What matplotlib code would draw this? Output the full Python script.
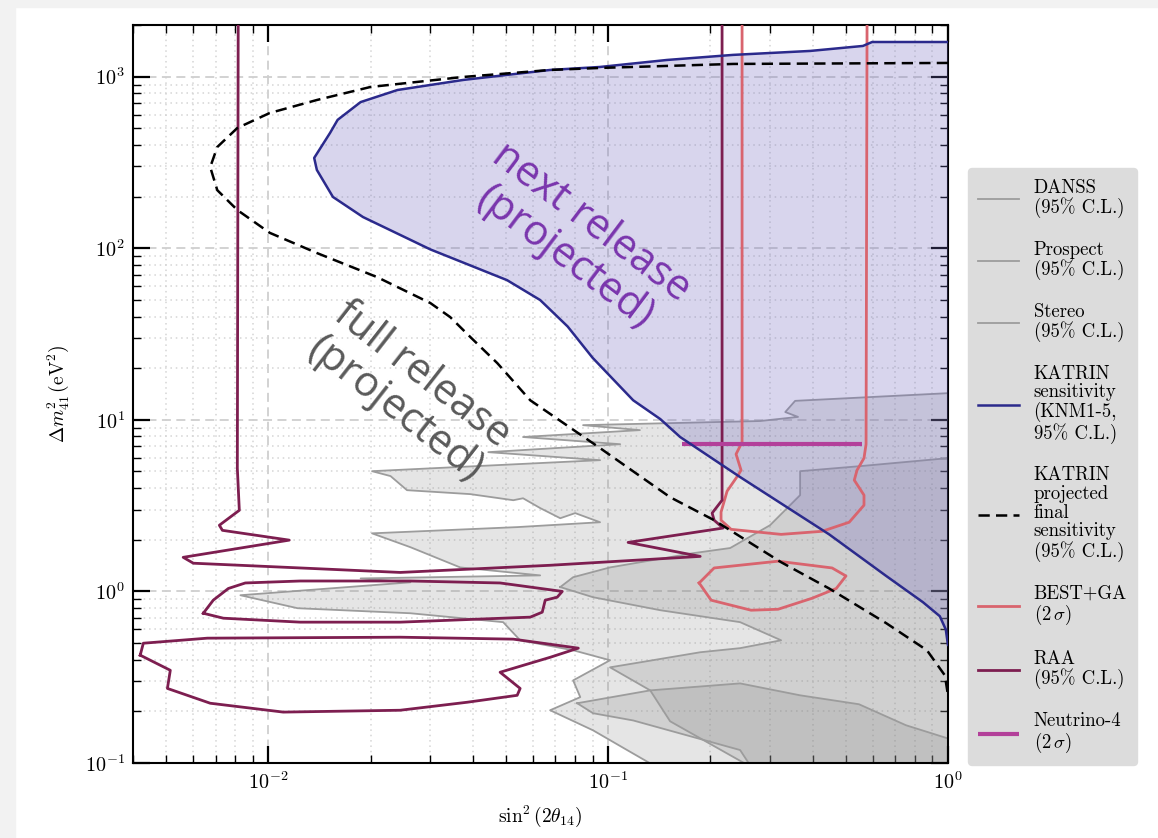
import matplotlib.pyplot as plt
from matplotlib.patches import Rectangle

plt.rcParams['font.family'] = 'serif'
plt.rcParams['font.serif'] = ['cmr10']
plt.rcParams['mathtext.fontset'] = 'cm'
plt.rcParams['axes.formatter.use_mathtext'] = True
plt.rcParams['axes.unicode_minus'] = False

# Reactor exclusion contours (sin^2(2theta), dm^2 in eV^2)
danss_x = [1.2, 1.0, 0.355, 0.332, 0.362, 0.280, 0.0844, 0.124, 0.0562, 0.1085,
           0.0444, 0.0947, 0.0202, 0.0229, 0.0256, 0.0393, 0.0526, 0.0562, 0.0631,
           0.0723, 0.0800, 0.0947, 0.0540, 0.0202, 0.0262, 0.0367, 0.0631, 0.0187,
           0.0262, 0.00828, 0.0122, 0.0262, 0.0491, 0.0551, 0.0789, 0.1013, 0.0789,
           0.0828, 0.0675, 0.0903, 0.1137, 0.133, 0.147, 1.2]
danss_y = [14.3, 14.3, 12.9, 11.1, 10.4, 9.84, 9.31, 8.71, 7.94, 7.21,
           6.48, 5.82, 5.02, 4.70, 3.89, 3.69, 3.40, 3.49, 3.06,
           2.67, 2.86, 2.53, 2.37, 2.18, 1.81, 1.38, 1.24, 1.19,
           1.13, 0.950, 0.798, 0.746, 0.662, 0.519, 0.454, 0.397, 0.303,
           0.242, 0.203, 0.155, 0.119, 0.0995, 0.079, 0.079]

prospect_x = [0.0723, 0.0789, 0.1013, 0.1778, 0.2286, 0.2994, 0.3672, 0.3672, 0.551,
              1.0, 1.2, 1.2, 0.310, 0.1522, 0.133, 0.1013, 0.1242, 0.1866, 0.2445,
              0.3228, 0.2445, 0.1424, 0.0903]
prospect_y = [1.06, 1.21, 1.38, 1.67, 1.79, 2.43, 3.64, 5.02, 5.37,
              5.98, 5.98, 0.079, 0.079, 0.175, 0.265, 0.361, 0.386, 0.442, 0.467,
              0.519, 0.662, 0.777, 0.925]

stereo_x = [0.0811, 0.133, 0.2445, 0.3672, 0.547, 0.752, 1.0, 1.2, 1.2, 0.280,
            0.2445, 0.1185, 0.0903]
stereo_y = [0.223, 0.265, 0.291, 0.248, 0.220, 0.166, 0.139, 0.139, 0.079, 0.079,
            0.119, 0.177, 0.195]

# KATRIN KNM1-5 sensitivity
katrin_x = [1.2, 1.0, 0.598, 0.562, 0.393, 0.233, 0.149, 0.0947, 0.0675, 0.0375,
            0.0240, 0.0187, 0.0160, 0.0152, 0.01365, 0.0139, 0.0155, 0.0190, 0.0300,
            0.0504, 0.0631, 0.0760, 0.0900, 0.1185, 0.1424, 0.1629, 0.2445, 0.447,
            0.658, 0.844, 0.946, 0.985, 1.0, 1.2]
katrin_y = [1592, 1592, 1592, 1510, 1412, 1339, 1251, 1139, 1094, 957,
            836, 711, 560, 470, 336, 286, 199, 152, 98.4,
            65.2, 49.9, 35.0, 23.0, 13.0, 10.1, 7.94, 4.64, 2.15,
            1.23, 0.865, 0.717, 0.600, 0.486, 0.486]

# KATRIN projected final sensitivity
final_x = [1.0, 0.233, 0.0947, 0.0675, 0.0375, 0.0200, 0.0139, 0.0101, 0.00811,
           0.00708, 0.00675, 0.00708, 0.00811, 0.0101, 0.0139, 0.0209, 0.0300,
           0.0343, 0.0393, 0.0472, 0.0590, 0.0947, 0.1522, 0.2051, 0.3228, 0.447,
           0.658, 0.867, 0.979, 1.0]
final_y = [1202, 1186, 1124, 1094, 996, 871, 731, 614, 502,
           389, 297, 218, 167, 123, 93.8, 67.9, 47.9,
           39.7, 30.4, 21.4, 13.0, 6.84, 3.54, 2.60, 1.48, 1.04,
           0.653, 0.454, 0.324, 0.248]

# BEST+GA (2 sigma)
best_x = [0.2478, 0.2478, 0.2379, 0.2461, 0.2411, 0.2239, 0.2149, 0.2149, 0.2301,
          0.3228, 0.426, 0.512, 0.566, 0.566, 0.530, 0.540, 0.566, 0.574, 0.578]
best_y = [2500, 7.41, 6.31, 5.09, 4.75, 3.84, 2.90, 2.60, 2.30,
          2.15, 2.24, 2.53, 3.18, 3.64, 4.45, 5.09, 5.98, 7.21, 2500]
best_island_x = [0.1853, 0.2051, 0.3162, 0.456, 0.501, 0.469, 0.398, 0.3162, 0.2634,
                 0.2009, 0.1853]
best_island_y = [1.12, 1.37, 1.50, 1.37, 1.23, 1.04, 0.912, 0.787, 0.777,
                 0.889, 1.12]

# RAA (95% C.L.)
raa_x = [0.00816, 0.00811, 0.00822, 0.00718, 0.00733, 0.01153, 0.00562, 0.00602,
         0.01242, 0.02445, 0.0675, 0.1866, 0.1145, 0.2179, 0.2051, 0.2023, 0.2164,
         0.2164]
raa_y = [2500, 5.23, 2.97, 2.43, 2.27, 1.99, 1.58, 1.46,
         1.37, 1.29, 1.42, 1.60, 1.93, 2.34, 2.60, 2.86, 3.40,
         2500]
raa_mid_x = [0.00644, 0.00689, 0.00763, 0.00856, 0.01242, 0.02617, 0.0481, 0.0733,
             0.0708, 0.0653, 0.0640, 0.0590, 0.02445, 0.01242, 0.00738, 0.00644]
raa_mid_y = [0.746, 0.889, 1.04, 1.12, 1.15, 1.15, 1.12, 1.00,
             0.925, 0.889, 0.757, 0.708, 0.662, 0.662, 0.698, 0.746]
raa_low_x = [0.00420, 0.00515, 0.00505, 0.00675, 0.01107, 0.02445, 0.0385, 0.0540,
             0.0551, 0.0481, 0.0675, 0.0817, 0.0526, 0.02445, 0.00662, 0.00429,
             0.00420]
raa_low_y = [0.425, 0.347, 0.272, 0.223, 0.198, 0.203, 0.226, 0.248,
             0.272, 0.338, 0.413, 0.467, 0.527, 0.541, 0.534, 0.499,
             0.425]

# Neutrino-4 (2 sigma)
n4_x = [0.165, 0.5585]
n4_y = [7.21, 7.21]

fig = plt.figure(figsize=(11.58, 8.38), dpi=100)
fig.patch.set_facecolor('white')
fig.add_artist(Rectangle((0, 0), 15 / 1158, 1, transform=fig.transFigure,
                         color='#f2f2f2', zorder=-10))
fig.add_artist(Rectangle((0, 1 - 7 / 838), 1, 7 / 838, transform=fig.transFigure,
                         color='#f2f2f2', zorder=-10))

ax = fig.add_axes([133 / 1158, 1 - 763 / 838, 815 / 1158, 738 / 838])
ax.set_xscale('log')
ax.set_yscale('log')

gray_edge = '#9c9c9c'
for gx, gy, name in [(danss_x, danss_y, 'DANSS\n(95% C.L.)'),
                     (prospect_x, prospect_y, 'Prospect\n(95% C.L.)'),
                     (stereo_x, stereo_y, 'Stereo\n(95% C.L.)')]:
    ax.fill(gx, gy, color='#808080', alpha=0.2, lw=0, zorder=1)
    ax.plot(gx + gx[:1], gy + gy[:1], color=gray_edge, lw=1.3, zorder=2, label=name)

ax.fill(katrin_x, katrin_y, color=(0.45, 0.42, 0.75), alpha=0.28, lw=0, zorder=3)
ax.plot(katrin_x, katrin_y, color='#2b2a8c', lw=1.8, zorder=5,
        label='KATRIN\nsensitivity\n(KNM1-5,\n95% C.L.)')
ax.plot(final_x, final_y, color='black', lw=1.8, ls=(0, (4.5, 2.5)), zorder=6,
        label='KATRIN\nprojected\nfinal\nsensitivity\n(95% C.L.)')
ax.plot(best_x, best_y, color='#d9646e', lw=2, zorder=4, label='BEST+GA\n(2$\\,\\sigma$)')
ax.plot(best_island_x, best_island_y, color='#d9646e', lw=2, zorder=4)
ax.plot(raa_x, raa_y, color='#7d1e50', lw=2, zorder=4, label='RAA\n(95% C.L.)')
ax.plot(raa_mid_x, raa_mid_y, color='#7d1e50', lw=2, zorder=4)
ax.plot(raa_low_x, raa_low_y, color='#7d1e50', lw=2, zorder=4)
ax.plot(n4_x, n4_y, color='#b3409a', lw=3.0, zorder=4, solid_capstyle='butt',
        label='Neutrino-4\n(2$\\,\\sigma$)')

ax.set_xlim(0.004, 1)
ax.set_ylim(0.1, 2000)

ax.set_axisbelow(True)
ax.grid(which='major', color='#cfcfcf', ls=(0, (5, 3)), lw=1.3)
ax.grid(which='minor', color='#d5d5d5', ls=(0, (1, 2.5)), lw=1.1)
ax.tick_params(which='both', direction='in', top=True, right=True, labelsize=14.5)
ax.tick_params(which='major', length=12, width=1.6, pad=6)
ax.tick_params(which='minor', length=6, width=1.0)
for sp in ax.spines.values():
    sp.set_linewidth(1.5)

ax.set_xlabel(r'$\sin^2(2\theta_{14})$', fontsize=14, labelpad=8)
ax.set_ylabel(r'$\Delta m^2_{41}\,(\mathrm{eV}^2)$', fontsize=14, labelpad=10)

ax.text(0.546, 0.709, 'next release\n(projected)', transform=ax.transAxes,
        rotation=-37, ha='center', va='center', fontsize=30, color='#7a35ad',
        family='Open Sans', rotation_mode='anchor', linespacing=1.05, zorder=7)
ax.text(0.338, 0.503, 'full release\n(projected)', transform=ax.transAxes,
        rotation=-38, ha='center', va='center', fontsize=30, color='#5a5a5a',
        family='Open Sans', rotation_mode='anchor', linespacing=1.05, zorder=7)

leg = ax.legend(loc='lower left', bbox_to_anchor=(1.0245, -0.003), borderaxespad=0,
                facecolor='#dcdcdc', edgecolor='#dcdcdc', framealpha=1,
                fontsize=13.5, handlelength=2.15, labelspacing=1.2, borderpad=0.55,
                handletextpad=0.8)
for t in leg.get_texts():
    t.set_linespacing(1.05)

fig.savefig('out.png', dpi=100)
